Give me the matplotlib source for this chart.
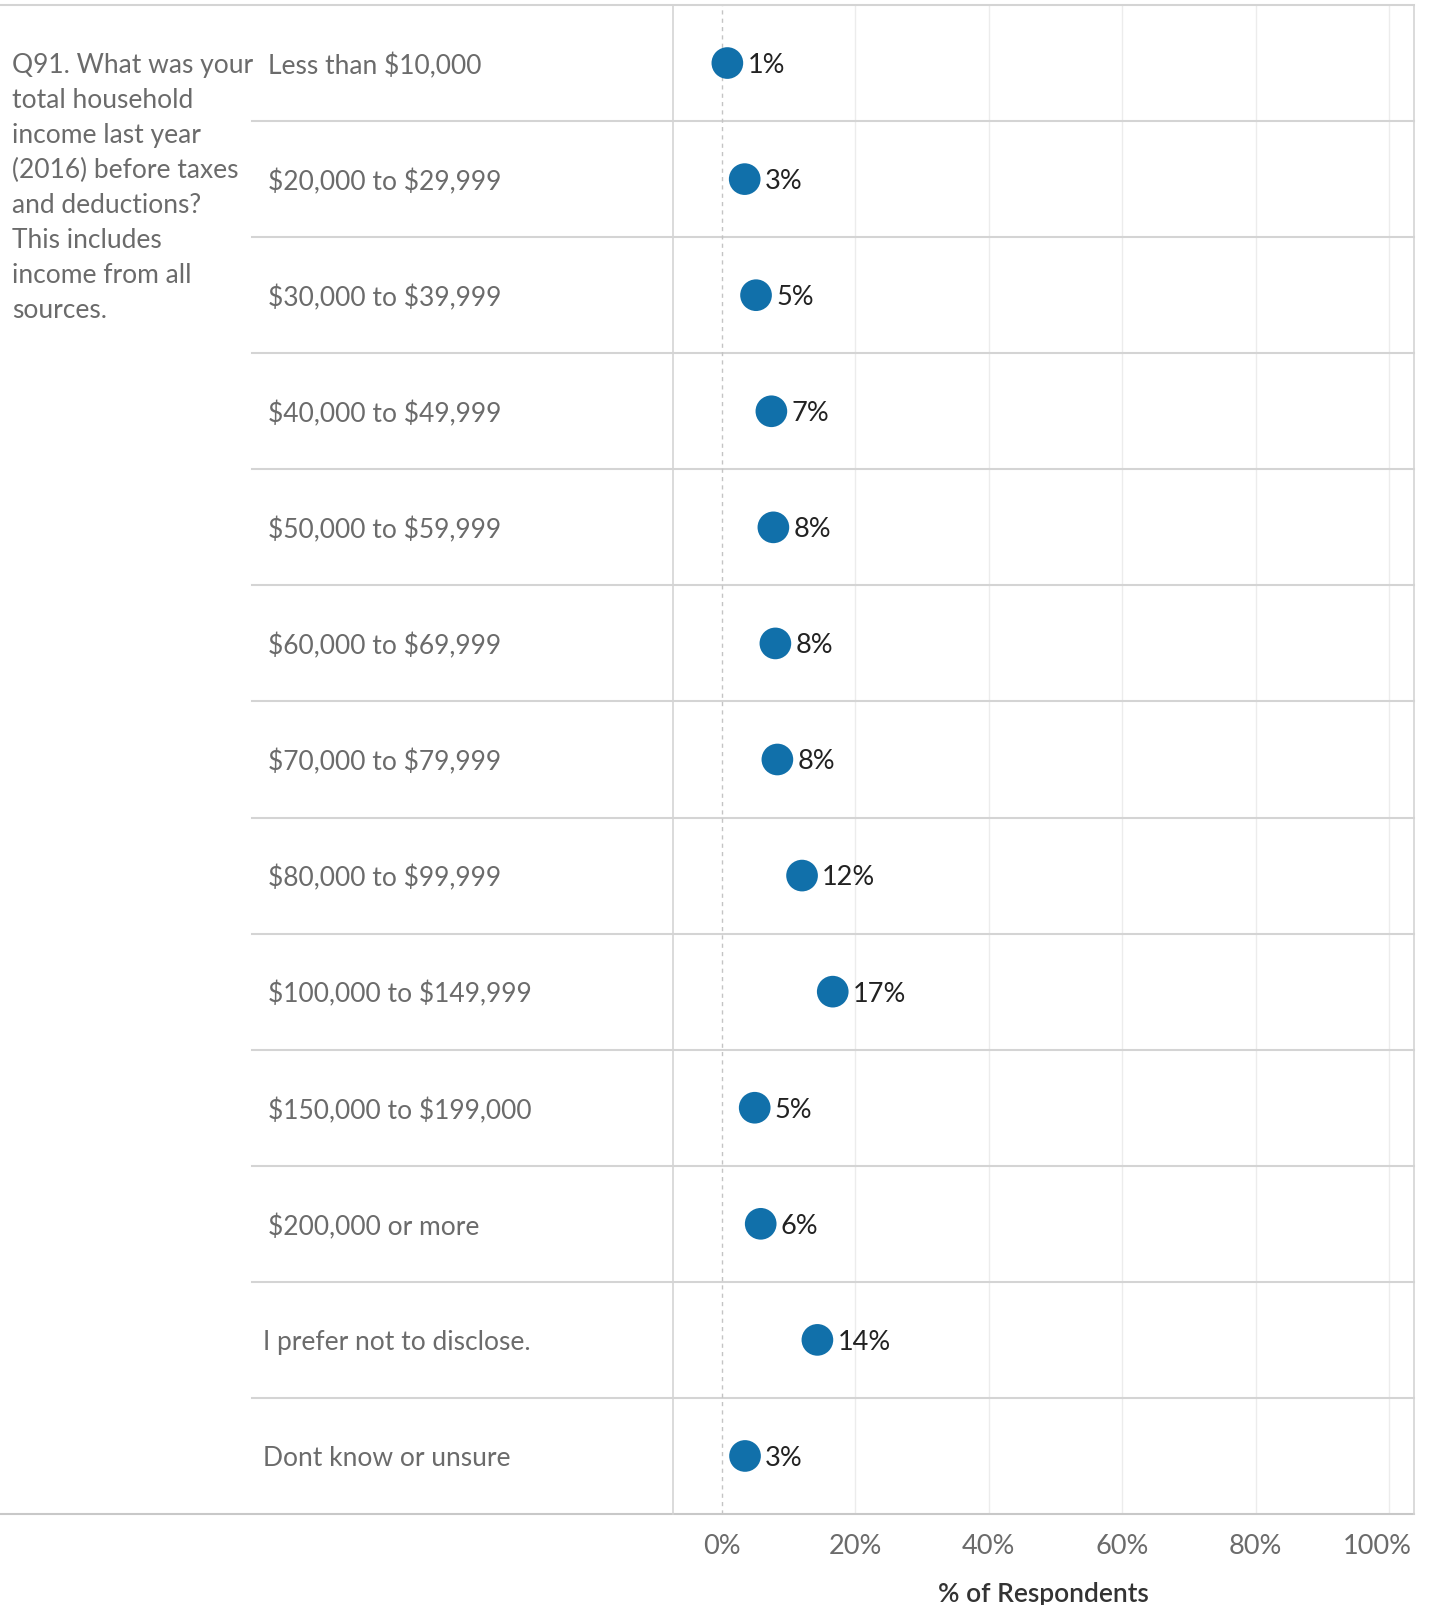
import matplotlib
matplotlib.use("Agg")
import matplotlib.pyplot as plt
from matplotlib.transforms import blended_transform_factory, ScaledTranslation

plt.rcParams["text.parse_math"] = False

categories = ["Less than $10,000", "$20,000 to $29,999", "$30,000 to $39,999",
              "$40,000 to $49,999", "$50,000 to $59,999", "$60,000 to $69,999",
              "$70,000 to $79,999", "$80,000 to $99,999", "$100,000 to $149,999",
              "$150,000 to $199,000", "$200,000 or more", "I prefer not to disclose.",
              "Dont know or unsure"]
values = [0.8, 3.4, 5.1, 7.4, 7.7, 8.0, 8.3, 12.0, 16.6, 4.9, 5.8, 14.3, 3.45]
question_lines = ["Q91. What was your", "total household", "income last year",
                  "(2016) before taxes", "and deductions?", "This includes",
                  "income from all", "sources."]
xticks = [0, 20, 40, 60, 80, 100]
xticklabels = ["0%", "20%", "40%", "60%", "80%", "100%"]

FONT = "Lato"
W, H = 1429, 1606
fig = plt.figure(figsize=(W / 100, H / 100), dpi=100)
L, R, T, B = 673, 1414, 6, 1515
ax = fig.add_axes([L / W, (H - B) / H, (R - L) / W, (B - T) / H])
n = len(categories)
ax.set_xlim(-7.35, 103.75)
ax.set_ylim(n - 0.5, -0.5)

for s in ax.spines.values():
    s.set_visible(False)
ax.set_yticks([])
ax.set_xticks(xticks)
ax.set_xticklabels(xticklabels, fontsize=19.5, color="#6b6b6b", family=FONT)
ax.tick_params(axis="x", length=0, pad=13.5)
lbls = ax.get_xticklabels()
lbls[-1].set_transform(lbls[-1].get_transform() +
                       ScaledTranslation(-12 / 100, 0, fig.dpi_scale_trans))
ax.set_xlabel("% of Respondents", fontsize=19, color="#333333", family=FONT,
              fontweight="semibold", labelpad=17)

# gridlines
for t in xticks[1:]:
    ax.axvline(t, color="#ececec", lw=1, zorder=0)
ax.axvline(0, color="#c4c4c4", lw=1, ls=(0, (3, 3)), zorder=1)

# borders
trans_fig_data = blended_transform_factory(fig.transFigure, ax.transData)
for i in range(1, n):
    ax.plot([252 / W, R / W], [i - 0.5, i - 0.5], transform=trans_fig_data,
            color="#d4d4d4", lw=1.5, clip_on=False, zorder=0)
ax.plot([0, R / W], [-0.5, -0.5], transform=trans_fig_data, color="#d4d4d4",
        lw=1.5, clip_on=False)
ax.plot([0, R / W], [n - 0.5, n - 0.5], transform=trans_fig_data, color="#c8c8c8",
        lw=1.5, clip_on=False)
ax.plot([L / W, L / W], [-0.5, n - 0.5], transform=trans_fig_data, color="#d4d4d4",
        lw=1.2, clip_on=False)
ax.plot([R / W, R / W], [-0.5, n - 0.5], transform=trans_fig_data, color="#d4d4d4",
        lw=1.2, clip_on=False)

# dots and labels
ys = list(range(n))
ax.scatter(values, ys, s=520, color="#1170aa", zorder=3, edgecolors="none")
for v, y in zip(values, ys):
    ax.annotate(f"{v:.0f}%", (v, y), xytext=(14.5, -1), textcoords="offset points",
                va="center", ha="left", fontsize=19.5, color="#222222", family=FONT)

# category labels
down = ScaledTranslation(0, -2 / 100, fig.dpi_scale_trans)
for i, c in enumerate(categories):
    x = 263 if i >= 11 else 268
    ax.text(x / W, i, c, transform=trans_fig_data + down, va="center", ha="left",
            fontsize=19, color="#6b6b6b", family=FONT)

# question text
for k, line in enumerate(question_lines):
    ypix = 66 + k * 34.9
    fig.text(12 / W, 1 - ypix / H, line, va="center", ha="left",
             fontsize=19, color="#6b6b6b", family=FONT)

fig.savefig("out.png", dpi=100, facecolor="white")
